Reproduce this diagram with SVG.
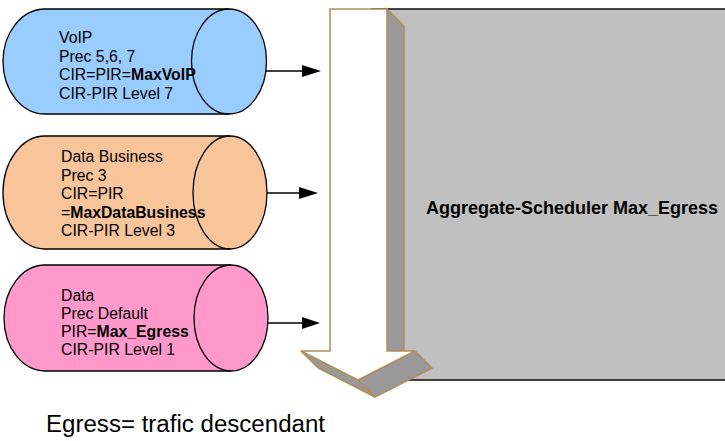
<svg xmlns="http://www.w3.org/2000/svg" width="725" height="441" viewBox="0 0 725 441">
<defs>
<style>
.cyl{stroke:#000;stroke-width:1.3}
.arc{fill:none;stroke:#000;stroke-width:1.3}
.t{font-family:"Liberation Sans",Arial,sans-serif;font-size:15.8px;fill:#000}
.b{font-weight:bold}
.conn{stroke:#000;stroke-width:1.4;fill:none}
.head{fill:#000}
.tan{stroke:#B08E5E;stroke-width:1.5;stroke-linejoin:miter}
</style>
</defs>
<rect width="725" height="441" fill="#fff"/>

<g id="scheduler">
<rect x="372" y="9" width="370" height="371" fill="#C0C0C0" stroke="#1a1a1a" stroke-width="1.6"/>
<text class="t b" x="426" y="214" style="font-size:18px">Aggregate-Scheduler Max_Egress</text>
</g>

<g id="egress-arrow">
<polygon class="tan" points="387,9 404,26 404,351 387,351" fill="#999999"/>
<polygon class="tan" points="415,351 432,368 375,397 358,380" fill="#999999"/>
<polygon class="tan" points="301,351 358,380 375,397 318,368" fill="#999999"/>
<polygon class="tan" points="330,9 387,9 387,351 415,351 358,380 301,351 330,351" fill="#ffffff"/>
</g>

<g id="voip">
<path class="cyl" fill="#99CCFF" d="M45,9 L229,9 A37.5,52.5 0 0 1 229,114 L45,114 A42,52.5 0 0 1 45,9 Z"/>
<path class="arc" d="M229,9 A37.5,52.5 0 0 0 229,114"/>
<text class="t"><tspan x="59" y="43">VoIP</tspan><tspan x="59" y="61.5">Prec 5,6, 7</tspan><tspan x="59" y="80">CIR=PIR=<tspan class="b">MaxVoIP</tspan></tspan><tspan x="59" y="98.5">CIR-PIR Level 7</tspan></text>
</g>

<g id="data-business">
<path class="cyl" fill="#F8C49A" d="M45,136 L230,136 A37,56.5 0 0 1 230,249 L45,249 A42,56.5 0 0 1 45,136 Z"/>
<path class="arc" d="M230,136 A37,56.5 0 0 0 230,249"/>
<text class="t"><tspan x="61" y="162">Data Business</tspan><tspan x="61" y="180.5">Prec 3</tspan><tspan x="61" y="199">CIR=PIR</tspan><tspan x="61" y="217.5">=<tspan class="b">MaxDataBusiness</tspan></tspan><tspan x="61" y="236">CIR-PIR Level 3</tspan></text>
</g>

<g id="data">
<path class="cyl" fill="#FF99CC" d="M45,265 L231,265 A37,53 0 0 1 231,371 L45,371 A41,53 0 0 1 45,265 Z"/>
<path class="arc" d="M231,265 A37,53 0 0 0 231,371"/>
<text class="t"><tspan x="61" y="301">Data</tspan><tspan x="61" y="319">Prec Default</tspan><tspan x="61" y="337">PIR=<tspan class="b">Max_Egress</tspan></tspan><tspan x="61" y="355">CIR-PIR Level 1</tspan></text>
</g>

<g id="connectors">
<line class="conn" x1="266" y1="71" x2="303" y2="71"/>
<polygon class="head" points="302,65 321,71 302,77"/>
<line class="conn" x1="267" y1="193" x2="300" y2="193"/>
<polygon class="head" points="299,187 318,193 299,199"/>
<line class="conn" x1="268" y1="323" x2="303" y2="323"/>
<polygon class="head" points="302,317 320,323 302,329"/>
</g>

<text class="t" x="46" y="432" style="font-size:23px" textLength="279" lengthAdjust="spacingAndGlyphs">Egress= trafic descendant</text>
</svg>
